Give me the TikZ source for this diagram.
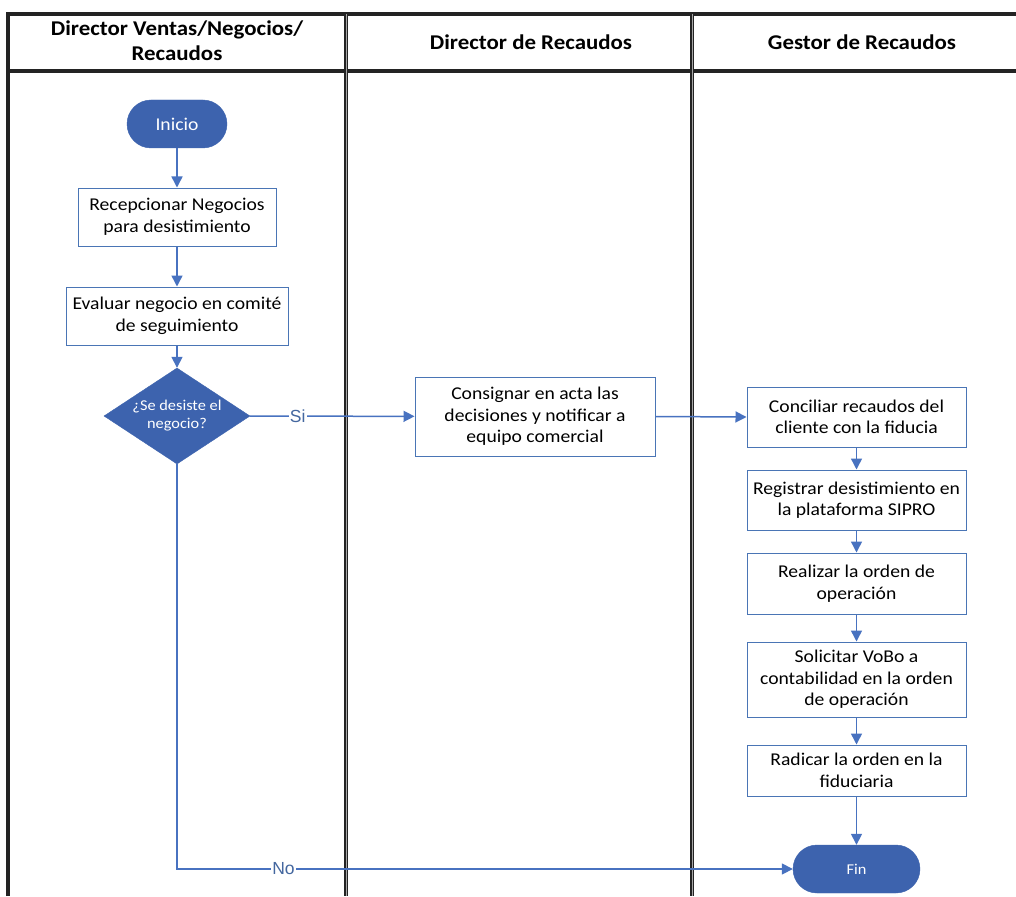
\documentclass[tikz,border=0pt]{standalone}
\usepackage{fontspec}
\setmainfont{Carlito}[FakeStretch=1.09]
\newfontfamily\labelfont{Liberation Sans}
\usetikzlibrary{shapes.geometric,arrows.meta}
\definecolor{lanegray}{RGB}{35,35,35}
\definecolor{boxblue}{RGB}{74,117,181}
\definecolor{termblue}{RGB}{61,99,174}
\definecolor{flowblue}{RGB}{72,114,192}
\definecolor{labelblue}{RGB}{68,103,159}
\tikzset{
  lane/.style={draw=lanegray, line width=3.2pt},
  laneinner/.style={draw=gray!70, line width=0.8pt},
  header/.style={font=\bfseries\fontsize{21}{25}\selectfont, align=center, text=black},
  process/.style={draw=boxblue, line width=1pt, fill=white, align=center,
    font=\fontsize{18}{21.5}\selectfont, text=black, inner sep=0pt},
  terminal/.style={fill=termblue, draw=termblue, rounded corners=24pt, text=white,
    minimum height=48pt, inner sep=0pt},
  decision/.style={diamond, aspect=1.52, fill=termblue, draw=termblue, text=white, align=center,
    font=\fontsize{15}{18}\selectfont, inner sep=0pt},
  flow/.style={draw=flowblue, line width=1.5pt, -{Triangle[length=11pt,width=11pt]}},
  flowlabel/.style={fill=white, text=labelblue, font=\labelfont\fontsize{17.5}{19}\selectfont, inner sep=1pt}
}
\begin{document}
\begin{tikzpicture}[x=1pt, y=-1pt]
\useasboundingbox (0,0) rectangle (1016,896);
\fill[white] (0,0) rectangle (1016,896);

% swimlane frame
\draw[lane] (8,896) -- (8,14) -- (1016,14);
\draw[lane] (8,71) -- (1016,71);
\draw[lane] (346,14) -- (346,896);
\draw[lane] (692,14) -- (692,896);
\draw[laneinner] (346,14) -- (346,896);
\draw[laneinner] (692,14) -- (692,896);

% lane titles
\node[header] (h1) at (177,41) {Director Ventas/Negocios/\\Recaudos};
\node[header] (h2) at (531,42) {Director de Recaudos};
\node[header] (h3) at (862,42) {Gestor de Recaudos};

% first lane
\node[terminal, minimum width=100pt, font=\fontsize{18}{20}\selectfont] (inicio) at (177,124) {Inicio};
\node[process, minimum width=198pt, minimum height=58pt] (recep) at (177,217) {Recepcionar Negocios\\para desistimiento};
\node[process, minimum width=222pt, minimum height=58pt] (eval) at (177,316) {Evaluar negocio en comité\\de seguimiento};
\node[decision, minimum width=146pt, minimum height=96pt] (dec) at (177,416) {¿Se desiste el\\negocio?};

% second lane
\node[process, minimum width=240pt, minimum height=79pt] (acta) at (535,416.5) {Consignar en acta las\\decisiones y notificar a\\equipo comercial};

% third lane
\node[process, minimum width=219pt, minimum height=60pt] (conc) at (856.5,417) {Conciliar recaudos del\\cliente con la fiducia};
\node[process, minimum width=219pt, minimum height=60pt] (regi) at (856.5,500) {Registrar desistimiento en\\la plataforma SIPRO};
\node[process, minimum width=219pt, minimum height=61pt] (real) at (856.5,583.5) {Realizar la orden de\\operación};
\node[process, minimum width=219pt, minimum height=75pt] (soli) at (856.5,679.5) {Solicitar VoBo a\\contabilidad en la orden\\de operación};
\node[process, minimum width=219pt, minimum height=51pt] (radi) at (856.5,770.5) {Radicar la orden en la\\fiduciaria};
\node[terminal, minimum width=127pt, font=\fontsize{15}{17}\selectfont] (fin) at (856.5,869) {Fin};

% connectors
\draw[flow] (inicio) -- (recep);
\draw[flow] (recep) -- (eval);
\draw[flow] (eval) -- (dec);
\draw[flow] (dec) -- node[flowlabel, pos=0.29] {Si} (acta);
\draw[flow] (acta.east) -- (conc.west);
\draw[flow] (conc) -- (regi);
\draw[flow] (regi) -- (real);
\draw[flow] (real) -- (soli);
\draw[flow] (soli) -- (radi);
\draw[flow] (radi) -- (fin);
\coordinate (nocorner) at (177,869);
\draw[flow] (dec.south) -- (nocorner) -- node[flowlabel, pos=0.173] {No} (fin.west);
\end{tikzpicture}
\end{document}
